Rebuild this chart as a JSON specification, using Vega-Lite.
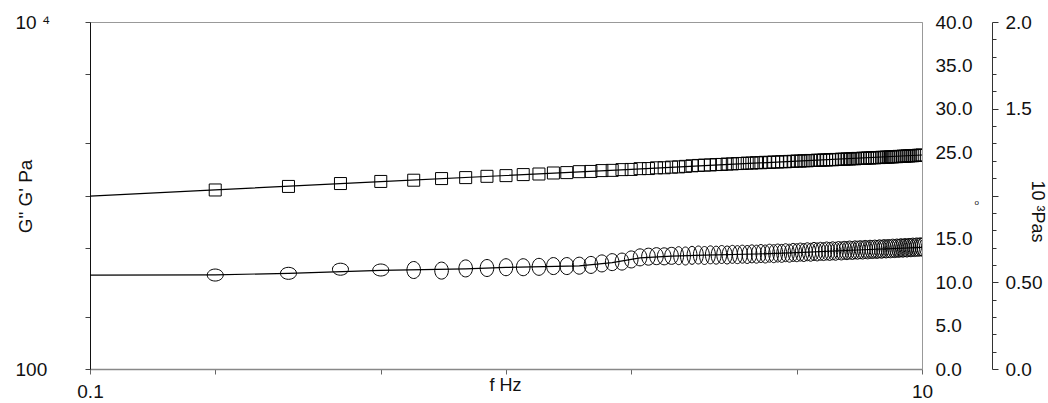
{
  "$schema": "https://vega.github.io/schema/vega-lite/v6.json",
  "width": 832,
  "height": 347,
  "autosize": {"type": "none"},
  "padding": {"left": 90, "top": 22, "right": 126, "bottom": 34},
  "background": "white",
  "config": {
    "view": {"stroke": "#999", "strokeWidth": 1},
    "font": "Liberation Sans",
    "axis": {"labelFont": "Liberation Sans", "titleFont": "Liberation Sans", "grid": false, "labelColor": "#111", "titleColor": "#111"}
  },
  "datasets": {
    "fit": [
      {"f": 0.1, "s": "Gp", "G": 993}, {"f": 0.2, "s": "Gp", "G": 1078}, {"f": 0.5, "s": "Gp", "G": 1201}, {"f": 1, "s": "Gp", "G": 1304},
      {"f": 2, "s": "Gp", "G": 1415}, {"f": 3, "s": "Gp", "G": 1485}, {"f": 5, "s": "Gp", "G": 1580}, {"f": 10, "s": "Gp", "G": 1712},
      {"f": 0.1, "s": "Gpp", "G": 348}, {"f": 0.2, "s": "Gpp", "G": 349}, {"f": 0.3, "s": "Gpp", "G": 356}, {"f": 0.5, "s": "Gpp", "G": 370},
      {"f": 0.8, "s": "Gpp", "G": 378}, {"f": 1, "s": "Gpp", "G": 385}, {"f": 1.5, "s": "Gpp", "G": 393}, {"f": 1.8, "s": "Gpp", "G": 410},
      {"f": 2.1, "s": "Gpp", "G": 437}, {"f": 2.5, "s": "Gpp", "G": 447}, {"f": 3, "s": "Gpp", "G": 453}, {"f": 4, "s": "Gpp", "G": 460},
      {"f": 5, "s": "Gpp", "G": 469}, {"f": 7, "s": "Gpp", "G": 485}, {"f": 10, "s": "Gpp", "G": 503}
    ],
    "meas": [
      {"f": 0.2, "Gp": 1076, "Gpp": 348}, {"f": 0.3, "Gp": 1128, "Gpp": 356}, {"f": 0.4, "Gp": 1172, "Gpp": 376}, {"f": 0.5, "Gp": 1205, "Gpp": 372},
      {"f": 0.6, "Gp": 1225, "Gpp": 372}, {"f": 0.7, "Gp": 1252, "Gpp": 369}, {"f": 0.8, "Gp": 1268, "Gpp": 380}, {"f": 0.9, "Gp": 1290, "Gpp": 382},
      {"f": 1.0, "Gp": 1302, "Gpp": 386}, {"f": 1.1, "Gp": 1320, "Gpp": 386}, {"f": 1.2, "Gp": 1330, "Gpp": 388}, {"f": 1.3, "Gp": 1348, "Gpp": 392},
      {"f": 1.4, "Gp": 1355, "Gpp": 392}, {"f": 1.5, "Gp": 1372, "Gpp": 394}, {"f": 1.6, "Gp": 1376, "Gpp": 398}, {"f": 1.7, "Gp": 1392, "Gpp": 406},
      {"f": 1.8, "Gp": 1396, "Gpp": 413}, {"f": 1.9, "Gp": 1410, "Gpp": 416}, {"f": 2.0, "Gp": 1413, "Gpp": 428}, {"f": 2.1, "Gp": 1428, "Gpp": 440},
      {"f": 2.2, "Gp": 1430, "Gpp": 444}, {"f": 2.3, "Gp": 1444, "Gpp": 447}, {"f": 2.4, "Gp": 1445, "Gpp": 446}, {"f": 2.5, "Gp": 1457, "Gpp": 449},
      {"f": 2.6, "Gp": 1462, "Gpp": 450}, {"f": 2.7, "Gp": 1472, "Gpp": 448}, {"f": 2.8, "Gp": 1483, "Gpp": 452}, {"f": 2.9, "Gp": 1490, "Gpp": 454},
      {"f": 3.0, "Gp": 1497, "Gpp": 451}, {"f": 3.1, "Gp": 1500, "Gpp": 455}, {"f": 3.2, "Gp": 1508, "Gpp": 453}, {"f": 3.3, "Gp": 1510, "Gpp": 457},
      {"f": 3.4, "Gp": 1518, "Gpp": 454}, {"f": 3.5, "Gp": 1521, "Gpp": 458}, {"f": 3.6, "Gp": 1528, "Gpp": 456}, {"f": 3.7, "Gp": 1530, "Gpp": 459},
      {"f": 3.8, "Gp": 1537, "Gpp": 457}, {"f": 3.9, "Gp": 1538, "Gpp": 461}, {"f": 4.0, "Gp": 1546, "Gpp": 459}, {"f": 4.1, "Gp": 1545, "Gpp": 463},
      {"f": 4.2, "Gp": 1553, "Gpp": 460}, {"f": 4.3, "Gp": 1552, "Gpp": 465}, {"f": 4.4, "Gp": 1559, "Gpp": 462}, {"f": 4.5, "Gp": 1560, "Gpp": 466},
      {"f": 4.6, "Gp": 1566, "Gpp": 464}, {"f": 4.7, "Gp": 1565, "Gpp": 468}, {"f": 4.8, "Gp": 1572, "Gpp": 465}, {"f": 4.9, "Gp": 1573, "Gpp": 470},
      {"f": 5.0, "Gp": 1580, "Gpp": 468}, {"f": 5.1, "Gp": 1579, "Gpp": 472}, {"f": 5.2, "Gp": 1586, "Gpp": 469}, {"f": 5.3, "Gp": 1585, "Gpp": 474},
      {"f": 5.4, "Gp": 1592, "Gpp": 471}, {"f": 5.5, "Gp": 1591, "Gpp": 476}, {"f": 5.6, "Gp": 1598, "Gpp": 473}, {"f": 5.7, "Gp": 1596, "Gpp": 477},
      {"f": 5.8, "Gp": 1603, "Gpp": 475}, {"f": 5.9, "Gp": 1602, "Gpp": 479}, {"f": 6.0, "Gp": 1609, "Gpp": 476}, {"f": 6.1, "Gp": 1607, "Gpp": 480},
      {"f": 6.2, "Gp": 1614, "Gpp": 477}, {"f": 6.3, "Gp": 1612, "Gpp": 482}, {"f": 6.4, "Gp": 1620, "Gpp": 479}, {"f": 6.5, "Gp": 1618, "Gpp": 483},
      {"f": 6.6, "Gp": 1625, "Gpp": 481}, {"f": 6.7, "Gp": 1623, "Gpp": 485}, {"f": 6.8, "Gp": 1630, "Gpp": 482}, {"f": 6.9, "Gp": 1628, "Gpp": 486},
      {"f": 7.0, "Gp": 1636, "Gpp": 484}, {"f": 7.1, "Gp": 1634, "Gpp": 487}, {"f": 7.2, "Gp": 1641, "Gpp": 485}, {"f": 7.3, "Gp": 1639, "Gpp": 489},
      {"f": 7.4, "Gp": 1646, "Gpp": 486}, {"f": 7.5, "Gp": 1644, "Gpp": 490}, {"f": 7.6, "Gp": 1651, "Gpp": 488}, {"f": 7.7, "Gp": 1649, "Gpp": 491},
      {"f": 7.8, "Gp": 1656, "Gpp": 489}, {"f": 7.9, "Gp": 1654, "Gpp": 493}, {"f": 8.0, "Gp": 1661, "Gpp": 490}, {"f": 8.1, "Gp": 1659, "Gpp": 494},
      {"f": 8.2, "Gp": 1666, "Gpp": 492}, {"f": 8.3, "Gp": 1664, "Gpp": 495}, {"f": 8.4, "Gp": 1671, "Gpp": 493}, {"f": 8.5, "Gp": 1669, "Gpp": 497},
      {"f": 8.6, "Gp": 1676, "Gpp": 494}, {"f": 8.7, "Gp": 1674, "Gpp": 498}, {"f": 8.8, "Gp": 1681, "Gpp": 496}, {"f": 8.9, "Gp": 1679, "Gpp": 500},
      {"f": 9.0, "Gp": 1686, "Gpp": 497}, {"f": 9.1, "Gp": 1684, "Gpp": 501}, {"f": 9.2, "Gp": 1691, "Gpp": 498}, {"f": 9.3, "Gp": 1690, "Gpp": 502},
      {"f": 9.4, "Gp": 1696, "Gpp": 500}, {"f": 9.5, "Gp": 1695, "Gpp": 504}, {"f": 9.6, "Gp": 1701, "Gpp": 501}, {"f": 9.7, "Gp": 1700, "Gpp": 505},
      {"f": 9.8, "Gp": 1706, "Gpp": 503}, {"f": 9.9, "Gp": 1705, "Gpp": 506}, {"f": 10.0, "Gp": 1711, "Gpp": 504}
    ],
    "rightaxes": [{"r1": 0, "r2": 0}, {"r1": 40, "r2": 2}]
  },
  "layer": [
    {
      "encoding": {
        "x": {
          "field": "f", "type": "quantitative",
          "scale": {"type": "log", "domain": [0.1, 10], "nice": false},
          "axis": {
            "values": [0.1, 0.2, 0.5, 1, 2, 5, 10],
            "labelExpr": "datum.value == 0.1 ? '0.1' : datum.value == 10 ? '10' : ''",
            "tickSize": 5, "tickColor": "#666", "domainColor": "#888", "domainWidth": 1.5,
            "labelPadding": 8, "labelFontSize": 19, "labelFlush": false, "labelOverlap": false, "labelBound": false,
            "title": "f Hz", "titleFontSize": 18, "titleFontWeight": "normal",
            "titleX": 415, "titleY": 16, "titleAlign": "center", "titleBaseline": "middle"
          }
        },
        "y": {
          "field": "G", "type": "quantitative",
          "scale": {"type": "log", "domain": [100, 10000], "nice": false},
          "axis": {
            "orient": "left",
            "values": [100, 200, 500, 1000, 2000, 5000, 10000],
            "labelExpr": "datum.value == 100 ? '100' : datum.value == 10000 ? '10 ⁴' : ''",
            "tickSize": 5, "tickColor": "#444", "domainColor": "#111",
            "labelAlign": "left", "labelBaseline": "middle", "labelPadding": 70, "labelFontSize": 19,
            "labelFlush": false, "labelOverlap": false, "labelBound": false,
            "title": "G\" G' Pa", "titleFontSize": 19, "titleFontWeight": "normal",
            "titleAngle": 270, "titleX": -65, "titleY": 174, "titleAlign": "center", "titleBaseline": "middle"
          }
        }
      },
      "layer": [
        {
          "data": {"name": "fit"},
          "mark": {"type": "line", "color": "black", "strokeWidth": 1.2},
          "encoding": {"detail": {"field": "s"}}
        },
        {
          "data": {"name": "meas"},
          "transform": [{"fold": ["Gp"], "as": ["s", "G"]}],
          "mark": {"type": "point", "shape": "square", "size": 144, "filled": false, "color": "black", "strokeWidth": 1, "opacity": 1, "clip": true}
        },
        {
          "data": {"name": "meas"},
          "transform": [{"fold": ["Gpp"], "as": ["s", "G"]}, {"filter": "datum.f <= 0.5"}],
          "mark": {"type": "point", "shape": "M-1,0C-1,-0.4142,-0.5523,-0.75,0,-0.75C0.5523,-0.75,1,-0.4142,1,0C1,0.4142,0.5523,0.75,0,0.75C-0.5523,0.75,-1,0.4142,-1,0Z", "size": 256, "filled": false, "color": "black", "strokeWidth": 1, "opacity": 1, "clip": true}
        },
        {
          "data": {"name": "meas"},
          "transform": [{"fold": ["Gpp"], "as": ["s", "G"]}, {"filter": "datum.f > 0.5 && datum.f <= 2.5"}],
          "mark": {"type": "point", "shape": "M-0.8,0C-0.8,-0.5523,-0.4418,-1,0,-1C0.4418,-1,0.8,-0.5523,0.8,0C0.8,0.5523,0.4418,1,0,1C-0.4418,1,-0.8,0.5523,-0.8,0Z", "size": 289, "filled": false, "color": "black", "strokeWidth": 1, "opacity": 1, "clip": true}
        },
        {
          "data": {"name": "meas"},
          "transform": [{"fold": ["Gpp"], "as": ["s", "G"]}, {"filter": "datum.f > 2.5"}],
          "mark": {"type": "point", "shape": "M-0.55,0C-0.55,-0.5523,-0.3038,-1,0,-1C0.3038,-1,0.55,-0.5523,0.55,0C0.55,0.5523,0.3038,1,0,1C-0.3038,1,-0.55,0.5523,-0.55,0Z", "size": 324, "filled": false, "color": "black", "strokeWidth": 1, "opacity": 1, "clip": true}
        }
      ]
    },
    {
      "data": {"name": "rightaxes"},
      "mark": {"type": "point", "opacity": 0},
      "encoding": {
        "y": {
          "field": "r1", "type": "quantitative",
          "scale": {"domain": [0, 40], "nice": false, "zero": false},
          "axis": {
            "orient": "right",
            "values": [0, 5, 10, 15, 20, 25, 30, 35, 40],
            "labelExpr": "datum.value == 20 ? 'o' : format(datum.value, '.1f')",
            "ticks": false, "tickSize": 0,
            "labelPadding": {"condition": {"test": "datum.value == 20", "value": 52}, "value": 13},
            "labelFontSize": {"condition": {"test": "datum.value == 20", "value": 8}, "value": 19},
            "labelOffset": {"condition": {"test": "datum.value == 20", "value": 7}, "value": 0},
            "labelAlign": "left", "labelBaseline": "middle",
            "labelFlush": false, "labelOverlap": false, "labelBound": false,
            "domain": true, "domainColor": "#999",
            "title": null
          }
        }
      }
    },
    {
      "data": {"name": "rightaxes"},
      "mark": {"type": "point", "opacity": 0},
      "encoding": {
        "y": {
          "field": "r2", "type": "quantitative",
          "scale": {"domain": [0, 2], "nice": false, "zero": false},
          "axis": {
            "orient": "right", "offset": 70,
            "values": [0, 0.1, 0.2, 0.3, 0.4, 0.5, 0.6, 0.7, 0.8, 0.9, 1, 1.1, 1.2, 1.3, 1.4, 1.5, 1.6, 1.7, 1.8, 1.9, 2],
            "labelExpr": "datum.value == 0 ? '0.0' : datum.value == 0.5 ? '0.50' : datum.value == 1.5 ? '1.5' : datum.value == 2 ? '2.0' : ''",
            "tickSize": {"condition": {"test": "datum.value == 0 || datum.value == 0.5 || datum.value == 1 || datum.value == 1.5 || datum.value == 2", "value": 6}, "value": 4},
            "tickColor": "#333", "domainColor": "#333",
            "labelPadding": 7, "labelFontSize": 19, "labelAlign": "left", "labelBaseline": "middle",
            "labelFlush": false, "labelOverlap": false, "labelBound": false,
            "title": "10 ³Pas", "titleFontSize": 18, "titleFontWeight": "normal",
            "titleAngle": 90, "titleX": 44, "titleY": 189, "titleAlign": "center", "titleBaseline": "middle"
          }
        }
      }
    }
  ],
  "resolve": {"scale": {"y": "independent"}, "axis": {"y": "independent"}}
}
